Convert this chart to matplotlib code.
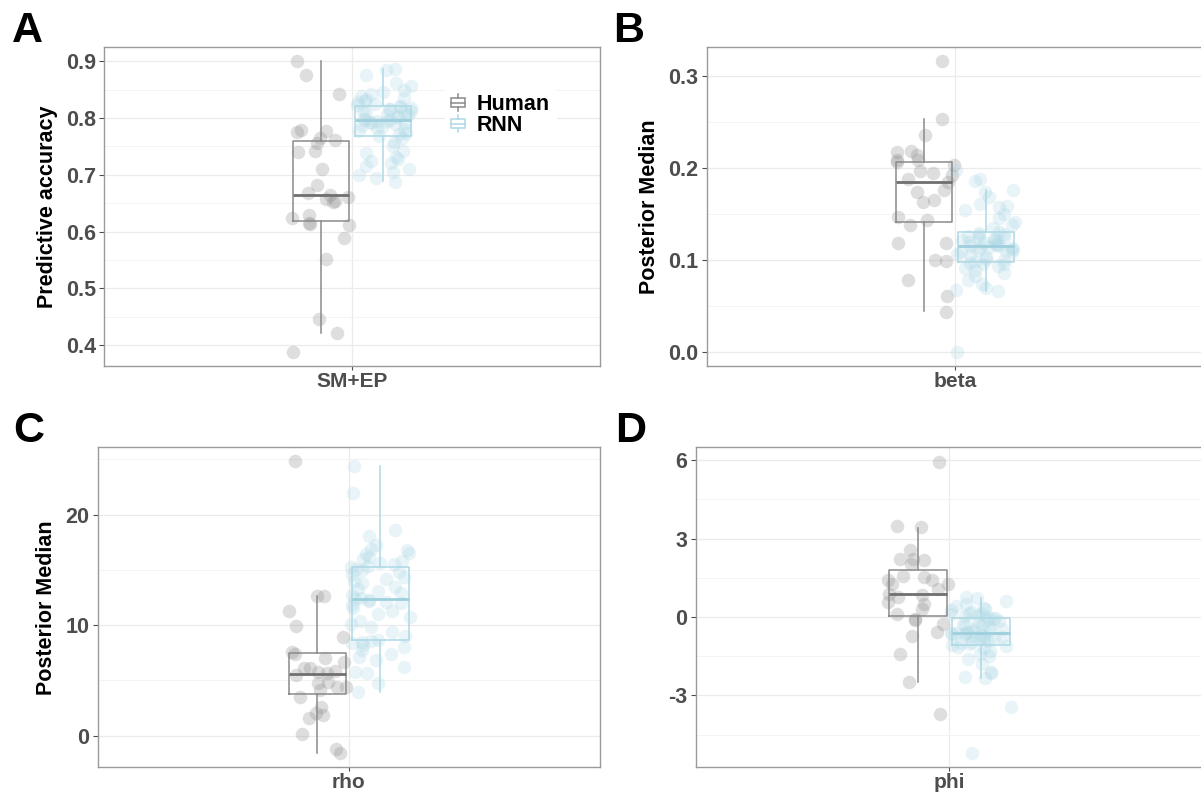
import numpy as np
import matplotlib
matplotlib.use('Agg')
import matplotlib.pyplot as plt
from matplotlib.legend_handler import HandlerBase
from matplotlib.patches import Rectangle, Patch
from matplotlib.lines import Line2D

plt.rcParams['font.family'] = ['Liberation Sans', 'DejaVu Sans']
plt.rcParams['font.weight'] = 'bold'
plt.rcParams['axes.labelweight'] = 'bold'
plt.rcParams['axes.unicode_minus'] = False

groups = ['Human', 'RNN']

# values (one point per subject / network)
human_acc = [0.900, 0.875, 0.843, 0.777, 0.776, 0.756, 0.764, 0.778, 0.761, 0.740,
             0.742, 0.711, 0.682, 0.657, 0.654, 0.661, 0.667, 0.664, 0.652, 0.629,
             0.623, 0.611, 0.615, 0.614, 0.588, 0.551, 0.445, 0.421, 0.388]
rnn_acc = [0.688, 0.695, 0.700, 0.704, 0.711, 0.715, 0.720, 0.724, 0.727, 0.731,
           0.738, 0.742, 0.750, 0.757, 0.764, 0.768, 0.771, 0.774, 0.777, 0.780,
           0.782, 0.785, 0.787, 0.789, 0.791, 0.792, 0.793, 0.794, 0.795, 0.796,
           0.797, 0.799, 0.801, 0.803, 0.805, 0.806, 0.808, 0.810, 0.812, 0.813,
           0.815, 0.816, 0.818, 0.819, 0.821, 0.823, 0.825, 0.828, 0.830, 0.833,
           0.836, 0.839, 0.842, 0.846, 0.850, 0.856, 0.862, 0.875, 0.884, 0.887]

human_beta = [0.316, 0.2525, 0.236, 0.218, 0.217, 0.214, 0.208, 0.208, 0.2065, 0.203,
              0.194, 0.188, 0.196, 0.192, 0.184, 0.176, 0.174, 0.163, 0.165, 0.147,
              0.143, 0.138, 0.118, 0.118, 0.100, 0.099, 0.078, 0.061, 0.0435]
rnn_beta = [0.000, 0.066, 0.067, 0.069, 0.074, 0.078, 0.082, 0.086, 0.089, 0.091,
            0.093, 0.095, 0.096, 0.097, 0.098, 0.100, 0.101, 0.103, 0.105, 0.106,
            0.108, 0.109, 0.110, 0.111, 0.112, 0.113, 0.113, 0.114, 0.115, 0.115,
            0.116, 0.117, 0.118, 0.119, 0.120, 0.121, 0.122, 0.123, 0.124, 0.125,
            0.126, 0.127, 0.128, 0.129, 0.130, 0.135, 0.138, 0.141, 0.145, 0.150,
            0.154, 0.157, 0.158, 0.161, 0.1685, 0.174, 0.176, 0.1855, 0.188, 0.1975]

human_rho = [24.83, 12.6, 12.6, 11.33, 9.94, 8.91, 7.61, 7.40, 6.7, 7.0,
             6.1, 5.8, 5.65, 6.1, 5.5, 5.9, 4.89, 4.74, 4.38, 4.14,
             4.44, 3.47, 2.63, 2.02, 1.57, 1.87, 0.15, -1.24, -1.6]
rnn_rho = [3.99, 4.74, 5.7, 5.8, 6.2, 6.86, 7.16, 7.4, 7.76, 8.0,
           8.2, 8.35, 8.45, 8.55, 8.67, 9.0, 9.4, 9.8, 10.1, 10.4,
           10.7, 11.0, 11.3, 11.6, 11.8, 12.0, 12.1, 12.2, 12.3, 12.39,
           12.5, 12.7, 12.9, 13.1, 13.3, 13.5, 13.8, 14.0, 14.2, 14.4,
           14.6, 14.8, 15.0, 15.1, 15.26, 15.4, 15.5, 15.6, 15.8, 16.0,
           16.2, 16.4, 16.5, 16.8, 16.9, 17.3, 18.1, 18.58, 21.96, 24.4]

human_phi = [5.94, 3.47, 3.45, 2.58, 2.23, 2.04, 2.23, 2.19, 1.43, 1.40,
             1.56, 1.53, 1.27, 1.27, 1.08, 0.89, 0.83, 0.51, 0.57, 0.76,
             0.13, -0.07, 0.32, -0.13, -0.26, -0.58, -0.71, -1.41, -2.49, -3.73]
rnn_phi = [-5.21, -3.45, -2.34, -2.3, -2.15, -2.1, -1.8, -1.6, -1.5, -1.41,
           -1.3, -1.2, -1.15, -1.12, -1.09, -1.05, -1.0, -0.95, -0.9, -0.87,
           -0.83, -0.8, -0.77, -0.74, -0.71, -0.68, -0.66, -0.64, -0.63, -0.62,
           -0.6, -0.57, -0.54, -0.5, -0.46, -0.42, -0.38, -0.34, -0.3, -0.25,
           -0.2, -0.15, -0.1, -0.07, -0.04, 0.0, 0.03, 0.06, 0.1, 0.13,
           0.17, 0.2, 0.25, 0.3, 0.35, 0.42, 0.5, 0.6, 0.72, 0.76]

# box stats: whisker low, q1, median, q3, whisker high
box_acc_human = [0.422, 0.619, 0.665, 0.759, 0.900]
box_acc_rnn = [0.689, 0.768, 0.796, 0.821, 0.887]
box_beta_human = [0.044, 0.1406, 0.1848, 0.2058, 0.2525]
box_beta_rnn = [0.0663, 0.0978, 0.1152, 0.1297, 0.1757]
box_rho_human = [-1.54, 3.81, 5.59, 7.46, 12.6]
box_rho_rnn = [3.99, 8.67, 12.39, 15.26, 24.4]
box_phi_human = [-2.49, 0.02, 0.89, 1.81, 3.42]
box_phi_rnn = [-2.34, -1.09, -0.62, -0.04, 0.72]

HUMAN = '#8a8a8a'
RNN = '#add8e6'


class BoxHandler(HandlerBase):
    def create_artists(self, legend, orig_handle, xdescent, ydescent,
                       width, height, fontsize, trans):
        c = orig_handle.get_edgecolor()
        x0, y0 = -xdescent, -ydescent
        rect = Rectangle((x0, y0 + 0.25 * height), width, 0.5 * height,
                         fill=False, edgecolor=c, lw=1.1, transform=trans)
        med = Line2D([x0, x0 + width], [y0 + 0.5 * height] * 2, color=c, lw=1.1, transform=trans)
        wt = Line2D([x0 + width / 2] * 2, [y0 + 0.75 * height, y0 + height], color=c, lw=1.1, transform=trans)
        wb = Line2D([x0 + width / 2] * 2, [y0, y0 + 0.25 * height], color=c, lw=1.1, transform=trans)
        return [rect, med, wt, wb]


def draw_panel(ax, name, human, rnn, hbox, rbox, ylim, ticks, ticklabels, minor, ylabel, seed):
    rng = np.random.default_rng(seed)
    for vals, box, pos, col, medcol in [(human, hbox, -0.075, HUMAN, '#6f6f6f'),
                                        (rnn, rbox, 0.075, RNN, '#9fcfdd')]:
        st = dict(zip(['whislo', 'q1', 'med', 'q3', 'whishi'], box))
        st['fliers'] = []
        ax.bxp([st], positions=[pos], widths=0.137, showfliers=False, showcaps=False,
               boxprops=dict(color=col, lw=1.1),
               whiskerprops=dict(color=col, lw=1.1),
               medianprops=dict(color=medcol, lw=2.0), zorder=4)
        x = pos + rng.uniform(-0.072, 0.072, len(vals))
        ax.scatter(x, vals, s=95, color=col, alpha=0.28, linewidths=0, zorder=3)

    ax.set_xlim(-0.6, 0.6)
    ax.set_ylim(*ylim)
    ax.set_xticks([0])
    ax.set_xticklabels([name])
    ax.set_yticks(ticks)
    ax.set_yticklabels(ticklabels)
    ax.set_yticks(minor, minor=True)
    ax.grid(True, which='major', color='#ebebeb', lw=0.9)
    ax.grid(True, which='minor', axis='y', color='#f3f3f3', lw=0.7)
    ax.set_axisbelow(True)
    ax.tick_params(which='major', labelsize=15.5, colors='#4d4d4d', length=3.5, width=0.8, pad=2.5)
    ax.tick_params(axis='x', which='major', labelsize=15, pad=1.0, length=3)
    ax.tick_params(which='minor', length=0)
    for s in ax.spines.values():
        s.set_color('#9a9a9a')
        s.set_linewidth(1.0)
    if ylabel:
        ax.set_ylabel(ylabel, fontsize=15.5, color='black', fontweight='bold', labelpad=6)


fig = plt.figure(figsize=(12.01, 7.94), dpi=100)
W, H = 1201, 794


def add_axes(left, top, right, bottom):
    return fig.add_axes([left / W, 1 - bottom / H, (right - left) / W, (bottom - top) / H])


axA = add_axes(104.3, 46.5, 600, 366)
axB = add_axes(706.7, 46.5, 1203, 366)
axC = add_axes(97.7, 447.3, 600, 767.3)
axD = add_axes(695.7, 447.3, 1203, 767.3)

draw_panel(axA, 'SM+EP', human_acc, rnn_acc, box_acc_human, box_acc_rnn,
           (0.363, 0.926), [0.4, 0.5, 0.6, 0.7, 0.8, 0.9],
           ['0.4', '0.5', '0.6', '0.7', '0.8', '0.9'],
           [0.45, 0.55, 0.65, 0.75, 0.85], 'Predictive accuracy', 3)
draw_panel(axB, 'beta', human_beta, rnn_beta, box_beta_human, box_beta_rnn,
           (-0.0152, 0.3315), [0.0, 0.1, 0.2, 0.3], ['0.0', '0.1', '0.2', '0.3'],
           [0.05, 0.15, 0.25], 'Posterior Median', 5)
draw_panel(axC, 'rho', human_rho, rnn_rho, box_rho_human, box_rho_rnn,
           (-2.86, 26.1), [0, 10, 20], ['0', '10', '20'],
           [5, 15, 25], 'Posterior Median', 11)
draw_panel(axD, 'phi', human_phi, rnn_phi, box_phi_human, box_phi_rnn,
           (-5.75, 6.49), [-3, 0, 3, 6], ['-3', '0', '3', '6'],
           [-4.5, -1.5, 1.5, 4.5], None, 17)

handles = [Patch(edgecolor=HUMAN, facecolor='none'), Patch(edgecolor=RNN, facecolor='none')]
axA.legend(handles, groups, handler_map={Patch: BoxHandler()}, loc='upper left',
           bbox_to_anchor=(0.665, 0.905), frameon=True, facecolor='white', edgecolor='none',
           framealpha=1, fontsize=15.5, handlelength=0.65, handleheight=0.8,
           handletextpad=0.55, labelspacing=0.0, borderpad=0.3)

for letter, x, y in [('A', 12, 42), ('B', 613, 42), ('C', 13, 442), ('D', 615, 442)]:
    fig.text(x / W, 1 - y / H, letter, fontsize=31, fontweight='bold', color='black',
             ha='left', va='baseline')

fig.savefig('out.png', dpi=100)
